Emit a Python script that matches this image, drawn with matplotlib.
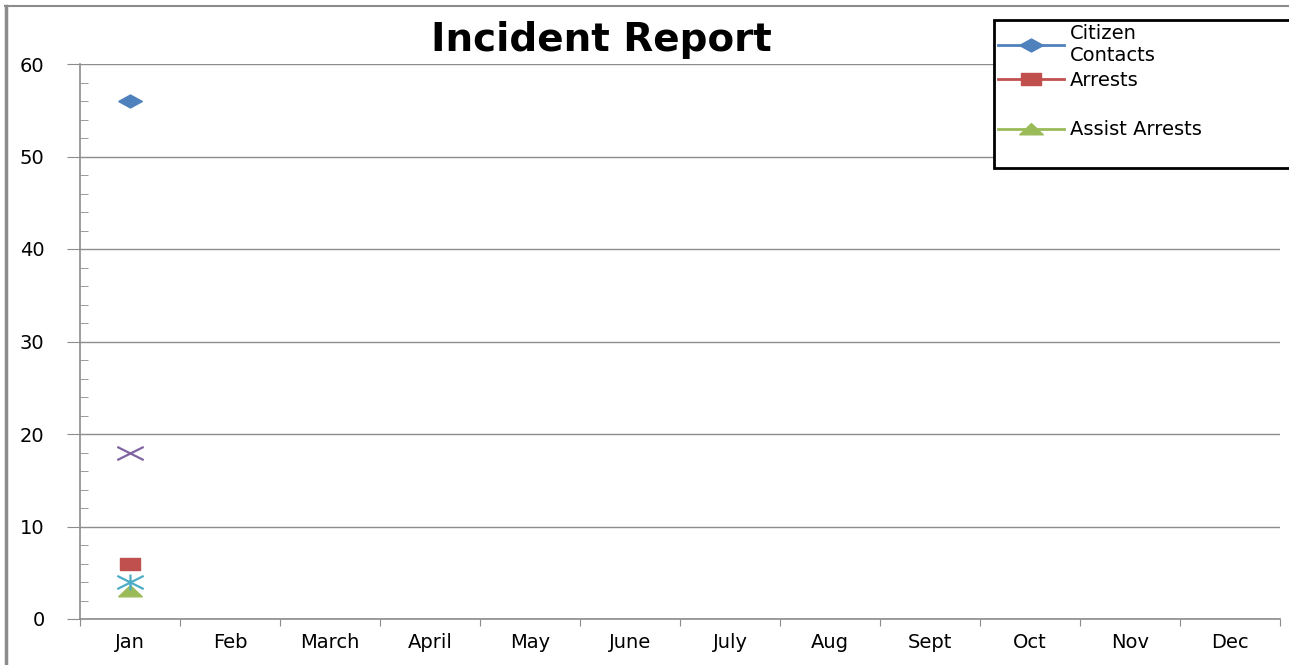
import numpy as np
import matplotlib
matplotlib.use("Agg")
import matplotlib.pyplot as plt
from matplotlib.path import Path
from matplotlib.lines import Line2D

months = ['Jan', 'Feb', 'March', 'April', 'May', 'June', 'July',
          'Aug', 'Sept', 'Oct', 'Nov', 'Dec']
citizen_contacts = [56]
arrests = [6]
assist_arrests = [3]
series_4 = [18]
series_5 = [4]

# excel-ish colours
blue = '#4F81BD'
red = '#C0504D'
green = '#9BBB59'
purple = '#8064A2'
cyan = '#4BACC6'
grid = '#8C8C8C'

# wide markers (the original is stretched sideways)
diamond = Path([(-1.0, 0), (0, 0.55), (1.0, 0), (0, -0.55), (-1.0, 0)])
rect = Path([(-1, -0.55), (1, -0.55), (1, 0.55), (-1, 0.55), (-1, -0.55)])
tri = Path([(-1, -0.45), (1, -0.45), (0, 0.5), (-1, -0.45)])
xmark = Path([(-1, -0.5), (1, 0.5), (-1, 0.5), (1, -0.5)],
             [Path.MOVETO, Path.LINETO, Path.MOVETO, Path.LINETO])
star = Path([(-1, -0.5), (1, 0.5), (-1, 0.5), (1, -0.5), (0, -0.6), (0, 0.6)],
            [Path.MOVETO, Path.LINETO, Path.MOVETO, Path.LINETO,
             Path.MOVETO, Path.LINETO])

plt.rcParams['font.family'] = ['DejaVu Sans']

fig = plt.figure(figsize=(12.89, 6.65), dpi=100)
ax = fig.add_axes([80 / 1289, 1 - 619 / 665, 1200 / 1289, 555 / 665])

x = np.arange(len(months))
ax.plot(x[:len(citizen_contacts)], citizen_contacts, color=blue, marker=diamond,
        ms=17, lw=2, label='Citizen\nContacts')
ax.plot(x[:len(arrests)], arrests, color=red, marker=rect, ms=15, lw=2,
        label='Arrests')
ax.plot(x[:len(assist_arrests)], assist_arrests, color=green, marker=tri,
        ms=17, lw=2, label='Assist Arrests')
ax.plot(x[:len(series_4)], series_4, color=purple, marker=xmark, ms=19,
        mew=1.6, lw=2, ls='none')
ax.plot(x[:len(series_5)], series_5, color=cyan, marker=star, ms=19,
        mew=1.6, lw=2, ls='none')

ax.set_xlim(-0.5, len(months) - 0.5)
ax.set_ylim(0, 60)
ax.set_yticks(np.arange(0, 61, 10))
ax.set_yticks(np.arange(0, 61, 2), minor=True)
ax.set_xticks(np.arange(len(months) + 1) - 0.5)
ax.set_xticklabels([])
ax.set_xticks(x, minor=True)
ax.set_xticklabels(months, minor=True, fontsize=14)

ax.yaxis.grid(True, color=grid, lw=1)
ax.set_axisbelow(True)
for s in ['top', 'right']:
    ax.spines[s].set_visible(False)
for s in ['left', 'bottom']:
    ax.spines[s].set_color(grid)
    ax.spines[s].set_linewidth(1.2)

ax.tick_params(axis='y', which='major', direction='out', length=9.5,
               color=grid, labelsize=14, pad=16)
ax.tick_params(axis='y', which='minor', direction='in', length=6, color=grid)
ax.tick_params(axis='x', which='major', direction='out', length=5, color=grid)
ax.tick_params(axis='x', which='minor', length=0, pad=10)

fig.text(601 / 1289, 1 - 40 / 665, 'Incident Report', ha='center', va='center',
         fontsize=28, fontweight='bold')

# legend, with empty rows like the original
h, l = ax.get_legend_handles_labels()
blank = Line2D([], [], color='none')
handles = [h[0], h[1], blank, h[2], blank]
labels = [l[0], l[1], ' ', l[2], ' ']
leg = fig.legend(handles, labels, loc='upper left', mode='expand',
                 bbox_to_anchor=(994 / 1289, 1 - 20 / 665, 310 / 1289, 0),
                 fontsize=14, frameon=True, fancybox=False, framealpha=1,
                 handlelength=3.4, handletextpad=0.3, labelspacing=0.3,
                 borderaxespad=0, borderpad=0.2)
leg.get_frame().set_edgecolor('black')
leg.get_frame().set_linewidth(2)

# outer chart border (left and top)
fig.add_artist(Line2D([6 / 1289, 6 / 1289], [0, 1 - 6 / 665],
                      transform=fig.transFigure, color='#8C8C8C', lw=2.5))
fig.add_artist(Line2D([5 / 1289, 1], [1 - 6 / 665, 1 - 6 / 665],
                      transform=fig.transFigure, color='#8C8C8C', lw=1.5))

fig.savefig('out.png', dpi=100)
